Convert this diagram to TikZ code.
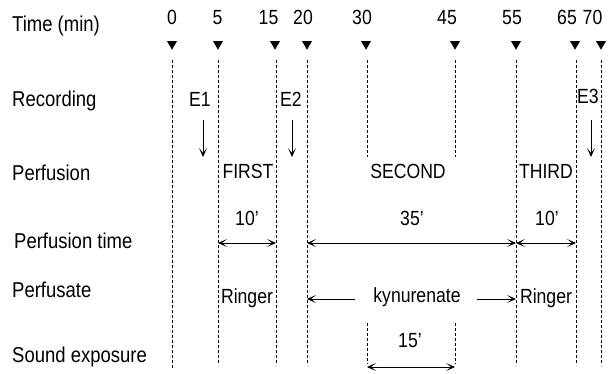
\documentclass[tikz,border=0pt]{standalone}
\usepackage{fontspec}
\setmainfont[FakeStretch=0.86]{Liberation Sans}
\usetikzlibrary{arrows.meta,shapes.geometric}
\newcommand{\prm}{{\char"27}}
\begin{document}
\begin{tikzpicture}[x=1pt,y=-1pt,
  txt/.style={inner sep=0pt,anchor=base,font=\fontsize{20.5}{24}\selectfont},
  rowlabel/.style={txt,anchor=base west,font=\fontsize{21.5}{25}\selectfont},
  tri/.style={regular polygon,regular polygon sides=3,shape border rotate=180,
    fill=black,inner sep=0pt,minimum size=11.5pt},
  guide/.style={dash pattern=on 3pt off 2pt,line width=0.85pt},
  dim/.style={line width=1pt,{Stealth[length=9pt,width=8pt,inset=5pt]}-{Stealth[length=9pt,width=8pt,inset=5pt]}},
  oneway/.style={line width=1pt,-{Stealth[length=9pt,width=8pt,inset=5pt]}},
]
\useasboundingbox (0,0) rectangle (610,373);

% row labels
\node[rowlabel] (lt) at (12,31)  {Time (min)};
\node[rowlabel] (lr) at (12,106) {Recording};
\node[rowlabel] (lp) at (12,180) {Perfusion};
\node[rowlabel] (lpt) at (14,248) {Perfusion time};
\node[rowlabel] (lps) at (12,297) {Perfusate};
\node[rowlabel] (lse) at (12,362) {Sound exposure};

% time values and markers
\foreach \n/\x/\tx in {0/172/172, 5/218/217.5, 15/275/268.5, 20/307/303, 30/366/362,
                       45/455/447, 55/516/512, 65/575/567, 70/601/592.5}{
  \node[txt] (n\n) at (\tx,24) {\n};
  \node[tri] (t\n) at (\x,44) {};
}

% dashed guides through the full height
\foreach \n/\x/\yb in {0/172/368, 5/218/365, 15/276/365, 20/307/365,
                       55/516/365, 65/576/365, 70/601/365}{
  \coordinate (g\n a) at (\x,60);
  \coordinate (g\n b) at (\x,\yb);
  \draw[guide] (g\n a) -- (g\n b);
}
% short guides for the sound exposure window
\foreach \n/\x in {30/367, 45/455}{
  \coordinate (g\n a) at (\x,60);
  \coordinate (g\n b) at (\x,157);
  \coordinate (g\n c) at (\x,323);
  \coordinate (g\n d) at (\x,364);
  \draw[guide] (g\n a) -- (g\n b);
  \draw[guide] (g\n c) -- (g\n d);
}

% recording electrodes
\node[txt] (e1) at (200,106) {E1};
\node[txt] (e2) at (291,106) {E2};
\node[txt] (e3) at (588,103) {E3};
\coordinate (e1a) at (203,120); \coordinate (e1b) at (203,157);
\coordinate (e2a) at (292,120); \coordinate (e2b) at (292,157);
\coordinate (e3a) at (591,120); \coordinate (e3b) at (591,157);
\draw[oneway] (e1a) -- (e1b);
\draw[oneway] (e2a) -- (e2b);
\draw[oneway] (e3a) -- (e3b);

% perfusion periods
\node[txt] (first)  at (248,178) {FIRST};
\node[txt] (second) at (408,178) {SECOND};
\node[txt] (third)  at (546,178) {THIRD};

% perfusion times
\node[txt] (d1) at (247,225) {10\prm};
\node[txt] (d2) at (412,225) {35\prm};
\node[txt] (d3) at (547,225) {10\prm};
\coordinate (p5)  at (218,243);
\coordinate (p15) at (276,243);
\coordinate (p20) at (307,243);
\coordinate (p55) at (516,243);
\coordinate (p65) at (576,243);
\draw[dim] (p5) -- (p15);
\draw[dim] (p20) -- (p55);
\draw[dim] (p55) -- (p65);

% perfusates
\node[txt] (r1) at (247,303) {Ringer};
\node[txt] (kyn) at (417,302) {kynurenate};
\node[txt] (r2) at (546,303) {Ringer};
\coordinate (k20) at (307,299);
\coordinate (k55) at (516,299);
\coordinate (kl) at (355,299);
\coordinate (kr) at (477,299);
\draw[oneway] (kl) -- (k20);
\draw[oneway] (kr) -- (k55);

% sound exposure
\node[txt] (d4) at (410,347) {15\prm};
\coordinate (s30) at (367,367);
\coordinate (s45) at (455,367);
\draw[dim] (s30) -- (s45);
\end{tikzpicture}
\end{document}
